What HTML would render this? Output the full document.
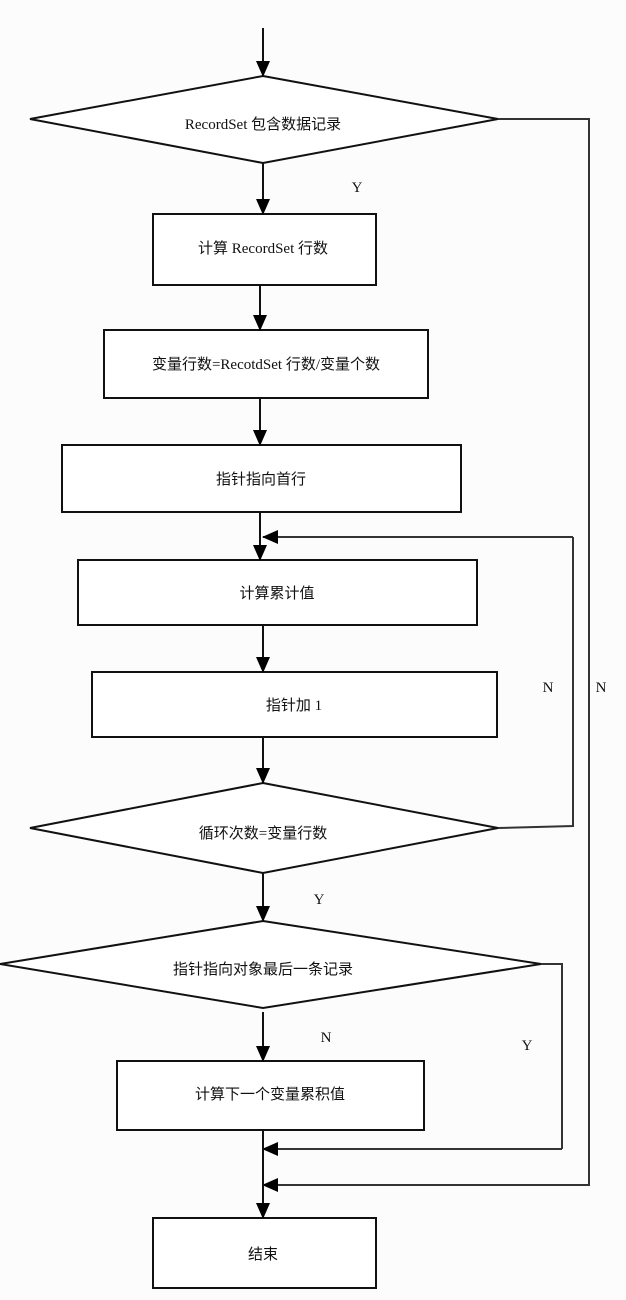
<!DOCTYPE html>
<html><head><meta charset="utf-8"><style>
html,body{margin:0;padding:0;background:#fcfcfc;}
svg{display:block}
text{font-family:"Liberation Serif","Noto Sans CJK SC",serif;font-size:15px;fill:#111;}
</style></head><body>
<svg width="626" height="1300" viewBox="0 0 626 1300" xmlns="http://www.w3.org/2000/svg">
<defs><marker id="a" markerWidth="10" markerHeight="10" refX="9" refY="5" orient="auto" markerUnits="userSpaceOnUse"><path d="M0,0 L10,5 L0,10 Z" fill="#000"/></marker>
<marker id="b" markerWidth="16" markerHeight="16" refX="15" refY="8" orient="auto" markerUnits="userSpaceOnUse"><path d="M0,1 L16,8 L0,15 Z" fill="#000"/></marker></defs>
<g stroke="#111" stroke-width="2" fill="#fff">
<polygon points="263,76 498,119 263,163 30,119"/>
<rect x="153" y="214" width="223" height="71"/>
<rect x="104" y="330" width="324" height="68"/>
<rect x="62" y="445" width="399" height="67"/>
<rect x="78" y="560" width="399" height="65"/>
<rect x="92" y="672" width="405" height="65"/>
<polygon points="263,783 498,828 263,873 30,828"/>
<polygon points="263,921 541,964 263,1008 0,964"/>
<rect x="117" y="1061" width="307" height="69"/>
<rect x="153" y="1218" width="223" height="70"/>
</g>
<g stroke="#111" stroke-width="2" fill="none" marker-end="url(#b)">
<line x1="263" y1="28" x2="263" y2="76"/>
<line x1="263" y1="163" x2="263" y2="214"/>
<line x1="260" y1="285" x2="260" y2="330"/>
<line x1="260" y1="398" x2="260" y2="445"/>
<line x1="260" y1="512" x2="260" y2="560"/>
<line x1="263" y1="625" x2="263" y2="672"/>
<line x1="263" y1="737" x2="263" y2="783"/>
<line x1="263" y1="873" x2="263" y2="921"/>
<line x1="263" y1="1012" x2="263" y2="1061"/>
<line x1="263" y1="1130" x2="263" y2="1218"/>
</g>
<g stroke="#333" stroke-width="2" fill="none">
<polyline points="498,119 589,119 589,1186"/>
<polyline points="498,828 573,826 573,537"/>
<polyline points="541,964 562,964 562,1149"/>
</g>
<g stroke="#333" stroke-width="2" fill="none" marker-end="url(#b)">
<line x1="573" y1="537" x2="263" y2="537"/>
<line x1="562" y1="1149" x2="263" y2="1149"/>
<line x1="589" y1="1185" x2="263" y2="1185"/>
</g>
<g text-anchor="middle">
<text x="263" y="129">RecordSet 包含数据记录</text>
<text x="263" y="253">计算 RecordSet 行数</text>
<text x="266" y="369">变量行数=RecotdSet 行数/变量个数</text>
<text x="261" y="484">指针指向首行</text>
<text x="277" y="598">计算累计值</text>
<text x="294" y="710">指针加 1</text>
<text x="263" y="838">循环次数=变量行数</text>
<text x="263" y="974">指针指向对象最后一条记录</text>
<text x="270" y="1099">计算下一个变量累积值</text>
<text x="263" y="1259">结束</text>
<text x="357" y="192">Y</text>
<text x="548" y="692">N</text>
<text x="601" y="692">N</text>
<text x="319" y="904">Y</text>
<text x="326" y="1042">N</text>
<text x="527" y="1050">Y</text>
</g>
</svg>
</body></html>
